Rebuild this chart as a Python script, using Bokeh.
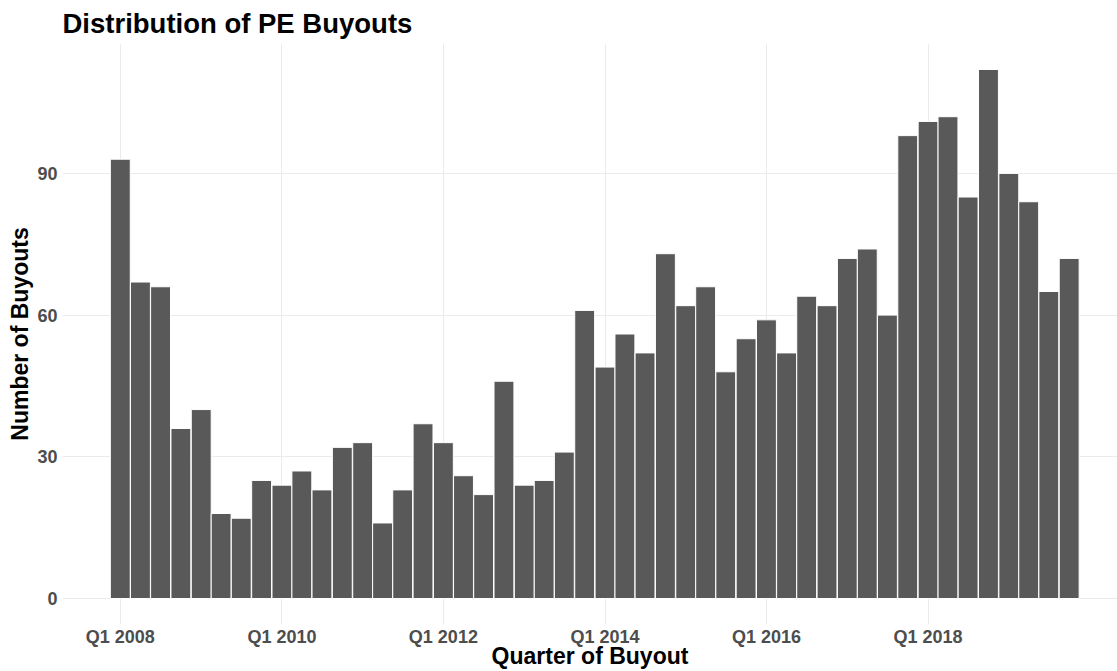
import pandas as pd
from bokeh.plotting import figure
from bokeh.models import FixedTicker, CustomJSTickFormatter, Range1d, ColumnDataSource, Title
from bokeh.embed import file_html
from bokeh.resources import INLINE

# ---- data ----
title_text = "Distribution of PE Buyouts"
x_title = "Quarter of Buyout"
y_title = "Number of Buyouts"
quarter_labels = [f"{y}Q{q}" for y in range(2008, 2020) for q in (1, 2, 3, 4)]
buyouts = [93, 67, 66, 36, 40, 18, 17, 25, 24, 27, 23, 32,
           33, 16, 23, 37, 33, 26, 22, 46, 24, 25, 31, 61,
           49, 56, 52, 73, 62, 66, 48, 55, 59, 52, 64, 62,
           72, 74, 60, 98, 101, 102, 85, 112, 90, 84, 65, 72]
x_tick_dates = ["2008-01-01", "2010-01-01", "2012-01-01", "2014-01-01", "2016-01-01", "2018-01-01"]
y_ticks = [0, 30, 60, 90]

DAY = 86400000.0
quarter_starts = pd.PeriodIndex(quarter_labels, freq="Q").start_time
x_ms = [ts.timestamp() * 1000.0 for ts in quarter_starts]
tick_ms = [pd.Timestamp(d).timestamp() * 1000.0 for d in x_tick_dates]

src = ColumnDataSource(dict(x=x_ms, top=buyouts))

W, H = 1117, 671
x_start = tick_ms[0] - 261.4 * DAY
x_end = x_start + 4770.9 * DAY
y_lo, y_hi = -5.5, 117.5

p = figure(width=W, height=H, output_backend="svg", toolbar_location=None,
           x_range=Range1d(x_start, x_end), y_range=Range1d(y_lo, y_hi),
           min_border_left=62, min_border_right=0, min_border_top=0, min_border_bottom=47)

p.vbar(x="x", top="top", bottom=0, width=90 * DAY, source=src,
       fill_color="#595959", line_color="white", line_width=1)

FONT = "Liberation Sans"
p.title.text = title_text
p.title.text_font = FONT
p.title.text_font_size = "27.5px"
p.title.text_font_style = "bold"
p.title.text_color = "black"
p.title.align = "left"
p.title.standoff = 10

p.outline_line_color = None
p.background_fill_color = "white"
p.border_fill_color = "white"

for ax in (p.xaxis[0], p.yaxis[0]):
    ax.axis_line_color = None
    ax.major_tick_line_color = None
    ax.minor_tick_line_color = None
    ax.major_tick_out = 0
    ax.major_tick_in = 0
    ax.minor_tick_out = 0
    ax.minor_tick_in = 0
    ax.major_label_text_font = FONT
    ax.major_label_text_font_size = "18px"
    ax.major_label_text_font_style = "bold"
    ax.major_label_text_color = "#4d4d4d"
    ax.axis_label_text_font = FONT
    ax.axis_label_text_font_size = "23px"
    ax.axis_label_text_font_style = "bold"
    ax.axis_label_text_color = "black"

p.xaxis.ticker = FixedTicker(ticks=tick_ms)
p.xaxis.formatter = CustomJSTickFormatter(code="""
const d = new Date(tick);
return 'Q' + (Math.floor(d.getUTCMonth() / 3) + 1) + ' ' + d.getUTCFullYear();
""")
p.xaxis.major_label_standoff = 2
p.xaxis.axis_label_standoff = 0

p.yaxis.ticker = FixedTicker(ticks=y_ticks)
p.yaxis.axis_label = y_title
p.yaxis.major_label_standoff = 5
p.yaxis.axis_label_standoff = 1

# x-axis title as a title below the axis
p.add_layout(Title(text=x_title, align="center", standoff=-18,
                   text_font=FONT, text_font_size="23px", text_font_style="bold",
                   text_color="black"), "below")

p.xgrid.ticker = FixedTicker(ticks=tick_ms)
p.ygrid.ticker = FixedTicker(ticks=y_ticks)
for g in (p.xgrid[0], p.ygrid[0]):
    g.grid_line_color = "#ebebeb"
    g.grid_line_width = 1

open("out.html", "w").write(file_html(p, INLINE))
